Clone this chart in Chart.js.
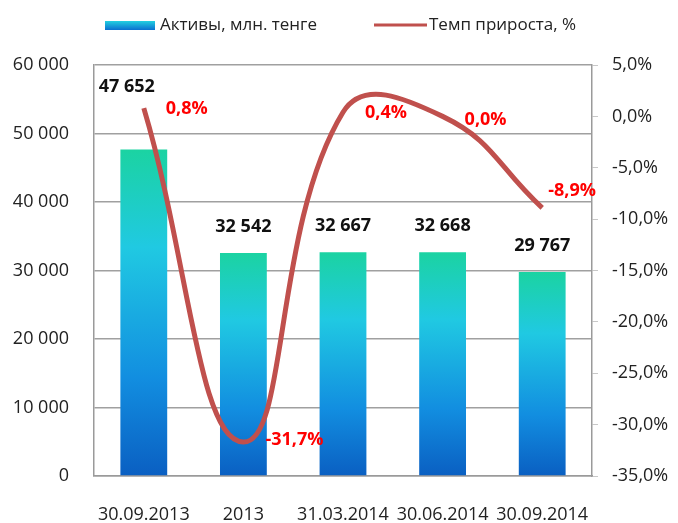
<!DOCTYPE html>
<html>
<head>
<meta charset="utf-8">
<script src="https://cdn.jsdelivr.net/npm/chart.js@4"></script>
<style>
  html, body { margin: 0; padding: 0; background: #fff; }
  #wrap { width: 678px; height: 523px; }
</style>
</head>
<body>
<div id="wrap"><canvas id="myChart" width="678" height="523"></canvas></div>
<script>
const categories = ['30.09.2013', '2013', '31.03.2014', '30.06.2014', '30.09.2014'];
const assets = [47652, 32542, 32667, 32668, 29767];
const growth = [0.8, -31.7, 0.4, 0.0, -8.9];
const assetsLabel = 'Активы, млн. тенге';
const growthLabel = 'Темп прироста, %';

const FONT = "'Open Sans', 'Liberation Sans', sans-serif";
const lineColor = '#c0504d';

function fmtThousands(v) {
    return String(Math.round(v)).replace(/\B(?=(\d{3})+(?!\d))/g, ' ');
}
function fmtPct(v) {
    return v.toFixed(1).replace('.', ',') + '%';
}

function barGradient(ctx) {
    const chart = ctx.chart;
    const y = chart.scales && chart.scales.y;
    if (!y || !chart.chartArea || ctx.dataIndex === undefined) return '#1cb8e0';
    const top = y.getPixelForValue(assets[ctx.dataIndex]);
    const bottom = y.getPixelForValue(0);
    const g = chart.ctx.createLinearGradient(0, top, 0, bottom);
    g.addColorStop(0, '#1bd3a2');
    g.addColorStop(0.3, '#20c9e2');
    g.addColorStop(0.7, '#128ee0');
    g.addColorStop(1, '#0a5fc2');
    return g;
}

// legend + value labels
const decor = {
    id: 'decor',
    afterDraw(chart) {
        const c = chart.ctx;
        c.save();
        // legend
        let g = c.createLinearGradient(0, 21, 0, 30);
        g.addColorStop(0, '#22d0e0');
        g.addColorStop(1, '#0a6fd0');
        c.fillStyle = g;
        c.fillRect(105, 21, 50, 9);
        c.font = '17px ' + FONT;
        c.fillStyle = '#222';
        c.textBaseline = 'middle';
        c.textAlign = 'left';
        c.fillText(assetsLabel, 160, 25);
        c.strokeStyle = lineColor;
        c.lineWidth = 3;
        c.beginPath();
        c.moveTo(374, 25);
        c.lineTo(427, 25);
        c.stroke();
        c.fillText(growthLabel, 429, 25);

        // bar values
        const bars = chart.getDatasetMeta(1).data;
        c.font = 'bold 18px ' + FONT;
        c.fillStyle = '#111';
        c.textAlign = 'center';
        bars.forEach((el, i) => {
            let x = el.x, y = el.y - 26;
            if (i === 0) { x -= 17; y = el.y - 63; }
            c.fillText(fmtThousands(assets[i]), x, y);
        });

        // growth values
        const pts = chart.getDatasetMeta(0).data;
        c.fillStyle = '#ff0000';
        c.textAlign = 'left';
        const dy = [1, -2, 1, 3, -17];
        pts.forEach((p, i) => {
            const x = p.x + (i === pts.length - 1 ? 6 : 22);
            c.fillText(fmtPct(growth[i]), x, p.y + dy[i]);
        });
        c.restore();
    }
};

const ctx = document.getElementById('myChart');

new Chart(ctx, {
    type: 'bar',
    data: {
        labels: categories,
        datasets: [{
            type: 'line',
            label: growthLabel,
            data: growth,
            yAxisID: 'y1',
            borderColor: lineColor,
            borderWidth: 5,
            pointRadius: 0,
            tension: 0.45,
            fill: false,
            order: 0
        }, {
            type: 'bar',
            label: assetsLabel,
            data: assets,
            yAxisID: 'y',
            backgroundColor: barGradient,
            barPercentage: 0.47,
            categoryPercentage: 1,
            order: 1
        }]
    },
    options: {
        responsive: false,
        animation: false,
        layout: { padding: { top: 65, right: 0, left: 0, bottom: 0 } },
        plugins: {
            legend: { display: false },
            tooltip: { enabled: false }
        },
        scales: {
            x: {
                grid: { display: false, drawTicks: false },
                border: { color: '#9a9a9a', width: 1.5 },
                ticks: { color: '#222', font: { family: FONT, size: 18 }, padding: 28, maxRotation: 0, autoSkip: false },
                afterFit(s) { s.height = 47; }
            },
            y: {
                position: 'left',
                min: 0,
                max: 60000,
                grid: { color: '#a0a0a0', lineWidth: 1.5, drawTicks: false },
                border: { color: '#9a9a9a', width: 1.5 },
                ticks: {
                    stepSize: 10000,
                    color: '#222',
                    padding: 25,
                    font: { family: FONT, size: 18 },
                    callback: v => fmtThousands(v)
                },
                afterFit(s) { s.width = 94; }
            },
            y1: {
                position: 'right',
                min: -35,
                max: 5,
                grid: { drawOnChartArea: false, color: '#c8c8c8', tickLength: 6 },
                border: { color: '#9a9a9a', width: 1.5 },
                ticks: {
                    stepSize: 5,
                    color: '#222',
                    padding: 14,
                    font: { family: FONT, size: 18 },
                    callback: v => fmtPct(v)
                },
                afterFit(s) { s.width = 86; }
            }
        }
    },
    plugins: [decor]
});
</script>
</body>
</html>
